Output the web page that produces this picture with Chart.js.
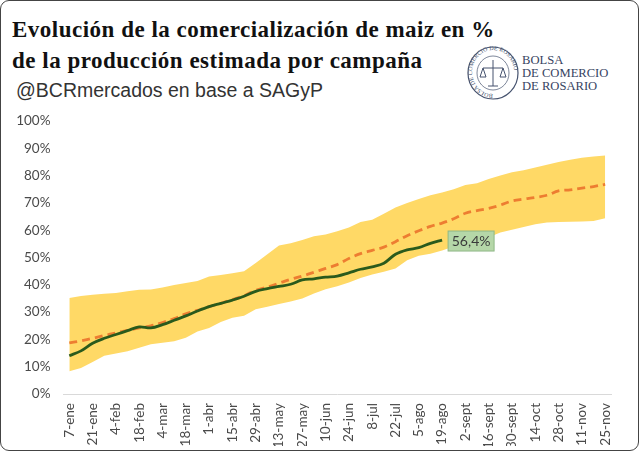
<!DOCTYPE html>
<html>
<head>
<meta charset="utf-8">
<script src="https://cdn.jsdelivr.net/npm/chart.js@4"></script>
<style>
  html, body { margin: 0; padding: 0; background: #fff; }
  #card { position: relative; width: 640px; height: 452px; overflow: hidden; }
  #frame { position: absolute; left: 0; top: 0; width: 637px; height: 449px; border: 1.5px solid #444; border-radius: 9px; }
  canvas { position: absolute; left: 0; top: 0; }
  .head { position: absolute; white-space: nowrap; }
  .title { left: 12px; font: bold 23px "Liberation Serif", serif; letter-spacing: 0.5px; color: #111; }
  #sub { left: 16px; top: 79px; font: 19.5px "Liberation Sans", sans-serif; color: #333; }
  #logo { position: absolute; left: 462px; top: 42px; }
</style>
</head>
<body>
<div id="card">
  <div class="head title" style="top:17px">Evolución de la comercialización de maiz en %</div>
  <div class="head title" style="top:48px">de la producción estimada por campaña</div>
  <div class="head" id="sub">@BCRmercados en base a SAGyP</div>

  <svg id="logo" width="170" height="62" viewBox="0 0 170 62">
    <defs><path id="sealArc" d="M 31 52 A 21 22 0 1 1 31.1 52"></path></defs>
    <ellipse cx="31" cy="31" rx="25" ry="26" fill="none" stroke="#46536f" stroke-width="1.2"></ellipse>
    <ellipse cx="31" cy="31" rx="16" ry="17" fill="none" stroke="#46536f" stroke-width="0.7"></ellipse>
    <text font-family="Liberation Serif" font-size="6" fill="#46536f"><textPath href="#sealArc">BOLSA DE COMERCIO DE ROSARIO</textPath></text>
    <path d="M31 18V44M21 26H41M21 26l-3 9h6zM41 26l-3 9h6zM26 44h10" fill="none" stroke="#46536f" stroke-width="1"></path>
    <g font-family="Liberation Serif" font-size="12.6" fill="#364361">
      <text x="60" y="22">BOLSA</text>
      <text x="60" y="35">DE COMERCIO</text>
      <text x="60" y="48">DE ROSARIO</text>
    </g>
  </svg>

  <canvas id="chart" width="640" height="452"></canvas>
  <div id="frame"></div>
</div>

<script>
/* =========================
   Data
========================= */

const weeks = [
  "7-ene", "14-ene", "21-ene", "28-ene", "4-feb", "11-feb", "18-feb", "25-feb",
  "4-mar", "11-mar", "18-mar", "25-mar", "1-abr", "8-abr", "15-abr", "22-abr",
  "29-abr", "6-may", "13-may", "20-may", "27-may", "3-jun", "10-jun", "17-jun",
  "24-jun", "1-jul", "8-jul", "15-jul", "22-jul", "29-jul", "5-ago", "12-ago",
  "19-ago", "26-ago", "2-sept", "9-sept", "16-sept", "23-sept", "30-sept", "7-oct",
  "14-oct", "21-oct", "28-oct", "4-nov", "11-nov", "18-nov", "25-nov"
];

const maximo = [
  35.2, 35.9, 36.4, 36.7, 37.0, 37.6, 38.2, 38.3, 39.0, 39.9, 40.7, 41.4,
  43.0, 43.6, 44.2, 45.0, 48.0, 51.2, 54.4, 55.2, 56.4, 57.8, 58.4, 59.6,
  61.0, 63.0, 63.8, 66.0, 68.3, 70.0, 71.4, 72.8, 73.8, 75.0, 76.6, 77.2,
  78.8, 80.0, 81.2, 82.0, 83.0, 84.0, 85.0, 85.8, 86.5, 87.0, 87.4
];

const minimo = [
  8.3, 9.5, 11.7, 14.0, 14.8, 15.7, 16.9, 18.2, 18.8, 19.3, 20.6, 22.9,
  24.2, 26.4, 27.9, 28.7, 31.0, 32.0, 33.0, 33.9, 35.0, 36.8, 38.4, 39.5,
  40.8, 42.5, 43.8, 44.8, 46.0, 49.0, 50.6, 51.4, 52.6, 54.0, 55.4, 56.0,
  57.4, 59.2, 60.2, 61.2, 62.2, 62.8, 63.0, 63.1, 63.2, 63.4, 64.4
];

const promedio = [
  18.7, 19.5, 20.4, 21.4, 22.4, 23.3, 24.2, 25.0, 26.2, 27.6, 29.4, 30.6,
  32.0, 33.2, 34.6, 36.0, 38.0, 39.2, 40.6, 42.0, 43.2, 44.6, 46.0, 47.4,
  49.6, 51.4, 52.6, 53.8, 55.8, 58.0, 59.8, 61.4, 62.6, 64.2, 66.2, 67.2,
  68.0, 69.2, 70.7, 71.4, 72.0, 72.8, 74.4, 74.8, 75.4, 76.0, 76.8
];

const campanaActual = [
  14.0, 15.8, 18.6, 20.4, 21.8, 23.2, 24.6, 24.2, 25.4, 27.0, 28.6, 30.4,
  32.0, 33.2, 34.4, 35.8, 37.6, 38.6, 39.4, 40.2, 41.8, 42.2, 42.8, 43.2,
  44.4, 45.7, 46.6, 47.9, 51.2, 52.8, 53.6, 55.2, 56.4
];

const lastLabel = "56,4%";
const yTicks = [0, 10, 20, 30, 40, 50, 60, 70, 80, 90, 100];

/* =========================
   Label box for the last point
========================= */

const lastLabelPlugin = {
  id: "lastLabel",
  afterDatasetsDraw(chart) {
    const { ctx, scales } = chart;
    const i = campanaActual.length - 1;
    const x = scales.x.getPixelForValue(i) + 6;
    const y = scales.y.getPixelForValue(campanaActual[i]) + 1;

    ctx.save();
    ctx.fillStyle = "#b5d7a8";
    ctx.strokeStyle = "#8fb886";
    ctx.lineWidth = 1;
    ctx.fillRect(x, y - 10, 46, 20);
    ctx.strokeRect(x, y - 10, 46, 20);
    ctx.fillStyle = "#3a3a3a";
    ctx.font = "14px Lato";
    ctx.textAlign = "center";
    ctx.textBaseline = "middle";
    ctx.fillText(lastLabel, x + 23, y + 0.5);
    ctx.restore();
  }
};

/* =========================
   Chart
========================= */

new Chart(document.getElementById("chart"), {
  type: "line",
  plugins: [lastLabelPlugin],
  data: {
    labels: weeks,
    datasets: [
      {
        label: "Campaña actual",
        data: campanaActual,
        borderColor: "#2a5a1c",
        borderWidth: 2.8,
        pointRadius: 0,
        tension: 0.35,
        fill: false
      },
      {
        label: "Promedio",
        data: promedio,
        borderColor: "#ed7d31",
        borderWidth: 2.8,
        borderDash: [8, 5],
        pointRadius: 0,
        tension: 0.35,
        fill: false
      },
      {
        label: "Máximo",
        data: maximo,
        borderWidth: 0,
        borderColor: "transparent",
        backgroundColor: "#ffd966",
        pointRadius: 0,
        fill: "+1"
      },
      {
        label: "Mínimo",
        data: minimo,
        borderWidth: 0,
        borderColor: "transparent",
        pointRadius: 0,
        fill: false
      }
    ]
  },
  options: {
    responsive: false,
    animation: false,
    layout: { padding: { top: 121, right: 29, bottom: 6, left: 0 } },
    plugins: {
      legend: { display: false },
      title: { display: false },
      tooltip: { enabled: false }
    },
    scales: {
      x: {
        offset: true,
        grid: { display: false, drawTicks: false },
        border: { color: "#d9d9d9", width: 1 },
        ticks: {
          autoSkip: false,
          minRotation: 90,
          maxRotation: 90,
          padding: 9,
          color: "#4a4a4a",
          font: { family: "Lato", size: 13.5 },
          callback(value, index) {
            return index % 2 === 0 ? weeks[index] : "";
          }
        },
        afterFit(scale) { scale.height = 52; }
      },
      y: {
        min: 0,
        max: 100,
        grid: { display: false, drawTicks: false },
        border: { display: false },
        afterBuildTicks(scale) { scale.ticks = yTicks.map(v => ({ value: v })); },
        ticks: {
          padding: 13,
          color: "#4a4a4a",
          font: { family: "Lato", size: 13.5 },
          callback: v => v + "%"
        },
        afterFit(scale) { scale.width = 63.5; }
      }
    }
  }
});
</script>
</body>
</html>
